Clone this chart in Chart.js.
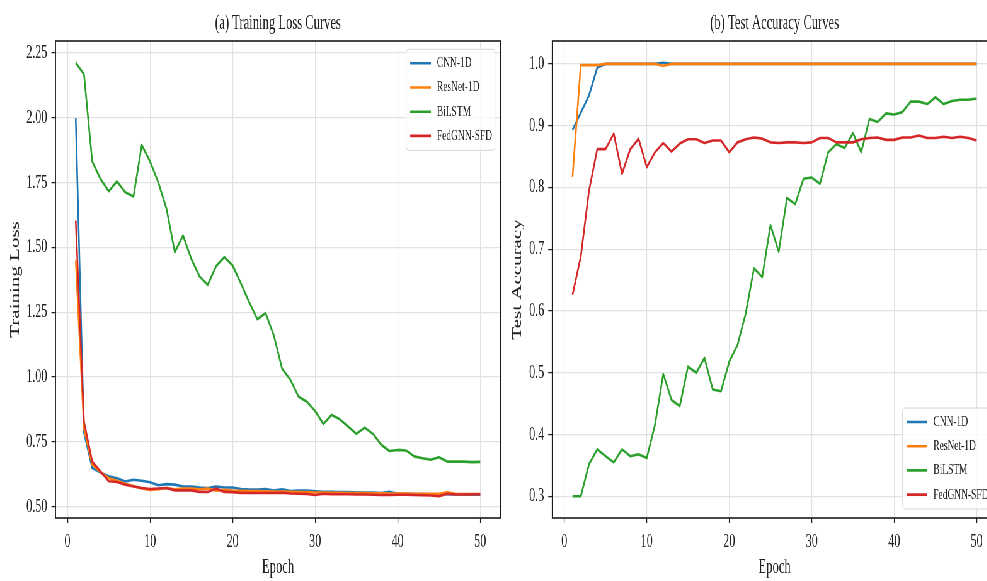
<!DOCTYPE html>
<html>
<head>
<meta charset="utf-8">
<script src="https://cdn.jsdelivr.net/npm/chart.js@4.4.0/dist/chart.umd.min.js"></script>
<style>
html, body { margin: 0; padding: 0; background: #fff; overflow: hidden; width: 987px; height: 581px; }
/* the reference figure is squeezed sideways, so draw wide and squeeze it too */
#wrap { position: absolute; left: 0; top: 0; width: 1600px; height: 581px; transform: scaleX(0.63); transform-origin: 0 0; }
#lossChart { position: absolute; left: 0; top: 0; }
#accChart { position: absolute; left: 800px; top: 0; }
</style>
</head>
<body>
<div id="wrap">
<canvas id="lossChart" width="800" height="581"></canvas>
<canvas id="accChart" width="800" height="581"></canvas>
</div>
<script>
var epochs = [1,2,3,4,5,6,7,8,9,10,11,12,13,14,15,16,17,18,19,20,21,22,23,24,25,
              26,27,28,29,30,31,32,33,34,35,36,37,38,39,40,41,42,43,44,45,46,47,48,49,50];
var modelNames = ["CNN-1D", "ResNet-1D", "BiLSTM", "FedGNN-SFD"];
var modelColors = ["#1f77b4", "#ff7f0e", "#2ca02c", "#d62728"];

var lossCNN = [1.999,0.785,0.649,0.632,0.617,0.610,0.597,0.604,0.600,0.594,0.583,0.587,0.585,0.578,0.578,
               0.574,0.572,0.578,0.574,0.574,0.568,0.566,0.566,0.568,0.562,0.567,0.560,0.562,0.562,0.559,
               0.557,0.557,0.556,0.556,0.555,0.555,0.555,0.553,0.557,0.550,0.550,0.549,0.549,0.548,0.548,
               0.548,0.547,0.547,0.546,0.546];
var lossResNet = [1.450,0.800,0.662,0.633,0.610,0.600,0.588,0.580,0.570,0.565,0.567,0.572,0.567,0.570,0.570,
                  0.567,0.570,0.562,0.565,0.562,0.561,0.560,0.560,0.559,0.558,0.558,0.557,0.556,0.556,0.555,
                  0.555,0.554,0.554,0.553,0.553,0.553,0.552,0.552,0.551,0.551,0.551,0.550,0.550,0.550,0.550,
                  0.556,0.550,0.549,0.549,0.549];
var lossBiLSTM = [2.213,2.168,1.832,1.764,1.717,1.755,1.713,1.697,1.895,1.832,1.751,1.649,1.482,1.546,1.456,
                  1.388,1.356,1.428,1.463,1.431,1.362,1.290,1.223,1.247,1.160,1.032,0.990,0.924,0.905,0.869,
                  0.819,0.854,0.837,0.809,0.781,0.805,0.781,0.739,0.715,0.719,0.717,0.694,0.687,0.681,0.691,
                  0.674,0.674,0.674,0.672,0.673];
var lossFedGNN = [1.604,0.828,0.674,0.636,0.598,0.595,0.585,0.578,0.572,0.568,0.570,0.572,0.563,0.563,0.563,
                  0.557,0.557,0.570,0.557,0.556,0.553,0.553,0.553,0.553,0.553,0.554,0.551,0.550,0.549,0.545,
                  0.550,0.548,0.548,0.548,0.547,0.547,0.546,0.545,0.545,0.546,0.546,0.545,0.544,0.543,0.540,
                  0.550,0.547,0.547,0.548,0.548];

var accCNN = [0.893,0.921,0.949,0.994,1.000,1.000,1.000,1.000,1.000,1.000,1.000,1.002,1.000,1.000,1.000,
              1.000,1.000,1.000,1.000,1.000,1.000,1.000,1.000,1.000,1.000,1.000,1.000,1.000,1.000,1.000,
              1.000,1.000,1.000,1.000,1.000,1.000,1.000,1.000,1.000,1.000,1.000,1.000,1.000,1.000,1.000,
              1.000,1.000,1.000,1.000,1.000];
var accResNet = [0.817,0.998,0.998,0.998,1.000,1.000,1.000,1.000,1.000,1.000,1.000,0.997,1.000,1.000,1.000,
                 1.000,1.000,1.000,1.000,1.000,1.000,1.000,1.000,1.000,1.000,1.000,1.000,1.000,1.000,1.000,
                 1.000,1.000,1.000,1.000,1.000,1.000,1.000,1.000,1.000,1.000,1.000,1.000,1.000,1.000,1.000,
                 1.000,1.000,1.000,1.000,1.000];
var accBiLSTM = [0.300,0.300,0.352,0.376,0.365,0.355,0.376,0.365,0.368,0.362,0.416,0.498,0.456,0.446,0.510,
                 0.500,0.524,0.473,0.470,0.518,0.545,0.596,0.669,0.655,0.739,0.696,0.783,0.773,0.814,0.816,
                 0.806,0.857,0.870,0.864,0.888,0.857,0.911,0.906,0.920,0.918,0.922,0.939,0.939,0.935,0.946,
                 0.935,0.940,0.942,0.942,0.944];
var accFedGNN = [0.626,0.688,0.795,0.862,0.862,0.887,0.822,0.862,0.879,0.833,0.857,0.872,0.858,0.871,0.878,
                 0.878,0.872,0.876,0.876,0.857,0.873,0.878,0.881,0.879,0.873,0.872,0.873,0.873,0.872,0.873,
                 0.880,0.880,0.873,0.873,0.873,0.878,0.880,0.881,0.877,0.877,0.881,0.881,0.884,0.880,0.880,
                 0.882,0.880,0.882,0.880,0.876];

var epochTicks = [0, 10, 20, 30, 40, 50];
var lossTicks = [0.50, 0.75, 1.00, 1.25, 1.50, 1.75, 2.00, 2.25];
var accTicks = [0.3, 0.4, 0.5, 0.6, 0.7, 0.8, 0.9, 1.0];

Chart.defaults.font.family = "'Liberation Serif', 'Times New Roman', serif";
Chart.defaults.color = "#222";

// frame, panel title and matplotlib-like legend box
var panelPlugin = {
    id: 'panel',
    afterDatasetsDraw: function(chart, args, opts) {
        var ctx = chart.ctx, a = chart.chartArea;
        ctx.save();
        ctx.strokeStyle = "#1a1a1a";
        ctx.lineWidth = 1.6;
        ctx.strokeRect(a.left, a.top, a.right - a.left, a.bottom - a.top);

        ctx.fillStyle = "#222";
        ctx.font = "20px 'Liberation Serif'";
        ctx.textAlign = "center";
        ctx.textBaseline = "alphabetic";
        ctx.fillText(opts.title, (a.left + a.right) / 2, 28.5);

        var w = 141, h = 101, r = 4;
        var x = a.right - 8.7 - w;
        var y = opts.legendAt == "top" ? a.top + 8.3 : a.bottom - 9 - h;
        ctx.beginPath();
        ctx.moveTo(x + r, y);
        ctx.arcTo(x + w, y, x + w, y + h, r);
        ctx.arcTo(x + w, y + h, x, y + h, r);
        ctx.arcTo(x, y + h, x, y, r);
        ctx.arcTo(x, y, x + w, y, r);
        ctx.closePath();
        ctx.fillStyle = "rgba(255,255,255,0.8)";
        ctx.fill();
        ctx.strokeStyle = "#d4d4d4";
        ctx.lineWidth = 1;
        ctx.stroke();

        ctx.font = "15px 'Liberation Serif'";
        ctx.textAlign = "left";
        ctx.textBaseline = "middle";
        for (var i = 0; i < modelNames.length; i++) {
            var ry = y + 14 + i * 24.2;
            ctx.strokeStyle = modelColors[i];
            ctx.lineWidth = 2.6;
            ctx.beginPath();
            ctx.moveTo(x + 6.4, ry);
            ctx.lineTo(x + 39.3, ry);
            ctx.stroke();
            ctx.fillStyle = "#222";
            ctx.fillText(modelNames[i], x + 48.8, ry);
        }
        ctx.restore();
    }
};

function makeDatasets(series) {
    return series.map(function(vals, i) {
        return {
            label: modelNames[i],
            data: epochs.map(function(e, j) { return {x: e, y: vals[j]}; }),
            borderColor: modelColors[i],
            backgroundColor: modelColors[i],
            borderWidth: 2.6,
            borderJoinStyle: 'round',
            pointRadius: 0,
            tension: 0,
            order: series.length - i
        };
    });
}

// matplotlib-style 5% margins around the data
function padRange(lists) {
    var all = [].concat.apply([], lists);
    var lo = Math.min.apply(null, all), hi = Math.max.apply(null, all);
    var m = (hi - lo) * 0.05;
    return [lo - m, hi + m];
}

function makeChart(id, series, yTicks, digits, yTitle, panel, yWidth, yTitlePad, padRight) {
    var xr = [epochs[0] - 0.05 * (epochs[epochs.length - 1] - epochs[0]),
              epochs[epochs.length - 1] + 0.05 * (epochs[epochs.length - 1] - epochs[0])];
    var yr = padRange(series);
    var grid = { color: "#e2e2e2", lineWidth: 1.2, tickColor: "#222", tickWidth: 1.3 };
    return new Chart(document.getElementById(id), {
        type: 'line',
        data: { datasets: makeDatasets(series) },
        plugins: [panelPlugin],
        options: {
            responsive: false,
            animation: false,
            devicePixelRatio: 1,
            layout: { padding: { top: 41, left: 0, right: padRight, bottom: 0 } },
            plugins: {
                legend: { display: false },
                tooltip: { enabled: false },
                panel: panel
            },
            scales: {
                x: {
                    type: 'linear', min: xr[0], max: xr[1],
                    afterBuildTicks: function(s) { s.ticks = epochTicks.map(function(v) { return {value: v}; }); },
                    afterFit: function(s) { s.height = 63; },
                    ticks: { padding: 7.3, font: { size: 19 }, autoSkip: false, maxRotation: 0,
                             callback: function(v) { return String(v); } },
                    grid: Object.assign({ tickLength: 5 }, grid),
                    border: { display: false },
                    title: { display: true, text: "Epoch", font: { size: 20 }, padding: { top: 0, bottom: 1 } }
                },
                y: {
                    type: 'linear', min: yr[0], max: yr[1],
                    afterBuildTicks: function(s) { s.ticks = yTicks.map(function(v) { return {value: v}; }); },
                    afterFit: function(s) { s.width = yWidth; },
                    ticks: { padding: 6.5, font: { size: 19 }, autoSkip: false,
                             callback: function(v) { return Number(v).toFixed(digits); } },
                    grid: Object.assign({ tickLength: 6.5 }, grid),
                    border: { display: false },
                    title: { display: true, text: yTitle, font: { size: 21 }, padding: { top: yTitlePad, bottom: 0 } }
                }
            }
        }
    });
}

var lossChart = makeChart("lossChart", [lossCNN, lossResNet, lossBiLSTM, lossFedGNN], lossTicks, 2,
    "Training Loss", { title: "(a) Training Loss Curves", legendAt: "top" }, 88.1, 12, 5.6);
var accChart = makeChart("accChart", [accCNN, accResNet, accBiLSTM, accFedGNN], accTicks, 1,
    "Test Accuracy", { title: "(b) Test Accuracy Curves", legendAt: "bottom" }, 76.7, 9, 17.6);
</script>
</body>
</html>
